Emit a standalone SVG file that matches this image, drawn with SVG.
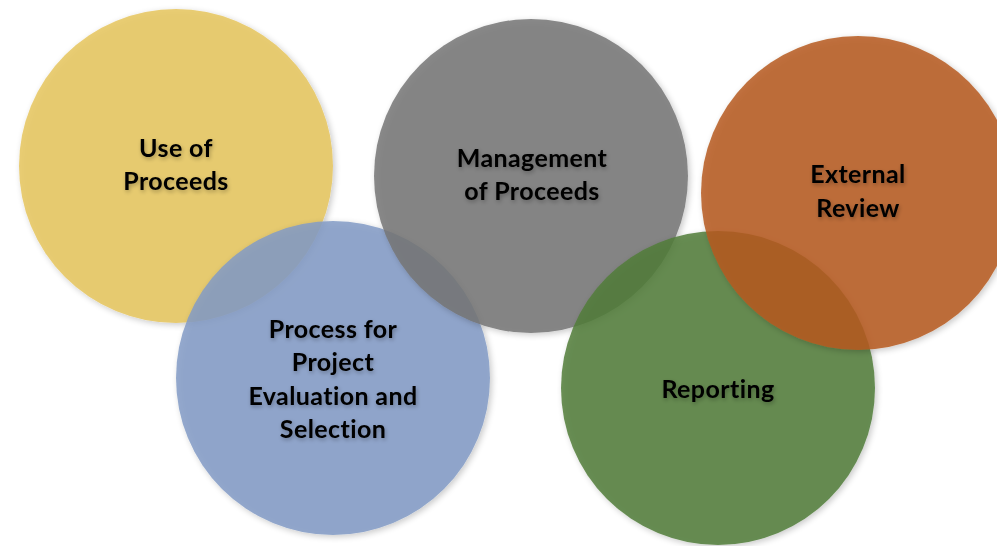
<svg xmlns="http://www.w3.org/2000/svg" width="997" height="546" viewBox="0 0 997 546">
<defs>
<filter id="sh" x="-20%" y="-20%" width="140%" height="140%">
<feGaussianBlur in="SourceAlpha" stdDeviation="3"/>
<feOffset dx="2" dy="2" result="b"/>
<feComponentTransfer><feFuncA type="linear" slope="0.25"/></feComponentTransfer>
<feMerge><feMergeNode/><feMergeNode in="SourceGraphic"/></feMerge>
</filter>
<filter id="tsh" x="-20%" y="-50%" width="140%" height="200%">
<feGaussianBlur in="SourceAlpha" stdDeviation="2"/>
<feOffset dx="1" dy="2"/>
<feComponentTransfer><feFuncA type="linear" slope="0.3"/></feComponentTransfer>
<feMerge><feMergeNode/><feMergeNode in="SourceGraphic"/></feMerge>
</filter>
</defs>
<style>
.c{fill-opacity:0.85}
.t{font-family:Lato,"Open Sans","Liberation Sans",sans-serif;font-weight:bold;font-size:25px;letter-spacing:0.4px;fill:#000;text-anchor:middle}
</style>
<rect width="997" height="546" fill="#fff"/>
<g id="use-of-proceeds">
<circle class="c" cx="176" cy="166" r="157" fill="#E6C65E" filter="url(#sh)"/>
</g>
<g id="process">
<circle class="c" cx="333" cy="378" r="157" fill="#829BC6" filter="url(#sh)"/>
</g>
<g id="management">
<circle class="c" cx="531" cy="176" r="157" fill="#757575" filter="url(#sh)"/>
</g>
<g id="reporting">
<circle class="c" cx="718" cy="388" r="157" fill="#517D39" filter="url(#sh)"/>
</g>
<g id="external-review">
<circle class="c" cx="858" cy="193" r="157" fill="#B65B1E" filter="url(#sh)"/>
</g>
<g id="labels" filter="url(#tsh)">
<text class="t" x="176" y="157">Use of</text>
<text class="t" x="176" y="190">Proceeds</text>
<text class="t" x="532" y="167">Management</text>
<text class="t" x="532" y="200">of Proceeds</text>
<text class="t" x="858" y="183">External</text>
<text class="t" x="858" y="217">Review</text>
<text class="t" x="333" y="338">Process for</text>
<text class="t" x="333" y="371">Project</text>
<text class="t" x="333" y="405">Evaluation and</text>
<text class="t" x="333" y="438">Selection</text>
<text class="t" x="718" y="398">Reporting</text>
</g>
<g id="connectors"/>
</svg>
